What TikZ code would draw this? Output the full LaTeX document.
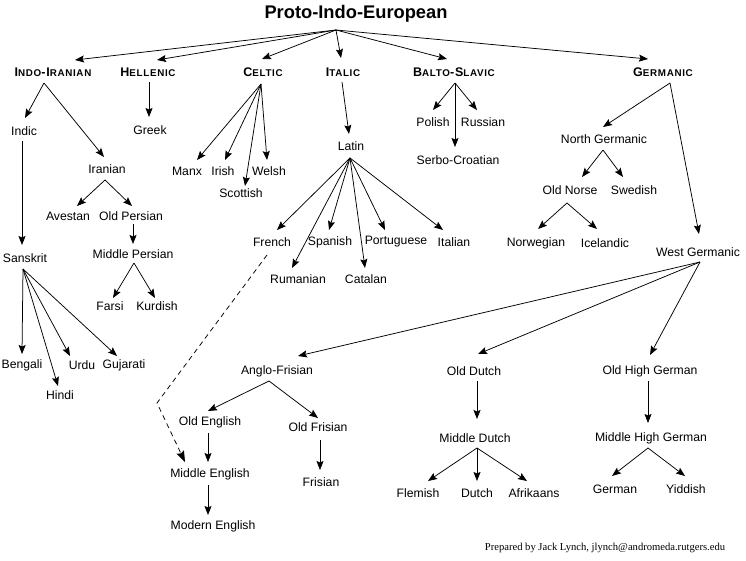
\documentclass[tikz,border=0pt]{standalone}
\usepackage{fontspec}
\setmainfont{Liberation Sans}
\newfontfamily\footfont{Liberation Serif}
\newfontfamily\hdrfont[LetterSpace=7]{Liberation Sans}
\usetikzlibrary{arrows.meta,calc}
\newcommand\BL[1]{{\fontsize{12.5}{14}\selectfont\bfseries #1}}
\newcommand\SL[1]{{\fontsize{9.8}{11}\selectfont\bfseries #1}}
\begin{document}
\begin{tikzpicture}[x=1pt,y=-1pt,
  lang/.style={font=\fontsize{12.2}{14}\selectfont, inner sep=0pt},
  hdr/.style={inner sep=0pt, font=\hdrfont},
  arr/.style={draw=black, line width=0.75pt, -{Stealth[length=9pt,width=7pt,inset=1.5pt]}},
  dsh/.style={draw=black, line width=0.75pt, dash pattern=on 5pt off 4pt, -{Stealth[length=11pt,width=8pt,inset=1.5pt]}}]
\useasboundingbox (0,0) rectangle (746,560);
\fill[white] (0,0) rectangle (746,560);
% title
\node[inner sep=0pt, font=\fontsize{18.3}{20}\selectfont\bfseries] (title) at (356,14) {Proto-Indo-European};
% headers
\node[hdr] (ii) at (53,72) {\BL{I}\SL{NDO}\BL{-I}\SL{RANIAN}};
\node[hdr] (hel) at (148,72) {\BL{H}\SL{ELLENIC}};
\node[hdr] (cel) at (263,72) {\BL{C}\SL{ELTIC}};
\node[hdr] (ita) at (343,72) {\BL{I}\SL{TALIC}};
\node[hdr] (bs) at (454,72) {\BL{B}\SL{ALTO}\BL{-S}\SL{LAVIC}};
\node[hdr] (ger) at (663,72) {\BL{G}\SL{ERMANIC}};
% Indo-Iranian
\node[lang] (indic) at (24,131) {Indic};
\node[lang] (iranian) at (107,169) {Iranian};
\node[lang] (sanskrit) at (25,258) {Sanskrit};
\node[lang] (avestan) at (68,216) {Avestan};
\node[lang] (oldpersian) at (131,216) {Old Persian};
\node[lang] (midpersian) at (133,254) {Middle Persian};
\node[lang] (farsi) at (110,306) {Farsi};
\node[lang] (kurdish) at (157,306) {Kurdish};
\node[lang] (bengali) at (22,365) {Bengali};
\node[lang] (hindi) at (60,395) {Hindi};
\node[lang] (urdu) at (82,365) {Urdu};
\node[lang] (gujarati) at (124,365) {Gujarati};
% Hellenic
\node[lang] (greek) at (150,130) {Greek};
% Celtic
\node[lang] (manx) at (187,171) {Manx};
\node[lang] (irish) at (223,171) {Irish};
\node[lang] (scottish) at (241,193) {Scottish};
\node[lang] (welsh) at (269,171) {Welsh};
% Italic
\node[lang] (latin) at (351,146) {Latin};
\node[lang] (french) at (272,242) {French};
\node[lang] (rumanian) at (298,279) {Rumanian};
\node[lang] (spanish) at (330,242) {Spanish};
\node[lang] (catalan) at (366,279) {Catalan};
\node[lang] (portuguese) at (396,242) {Portuguese};
\node[lang] (italian) at (454,242) {Italian};
% Balto-Slavic
\node[lang] (polish) at (433,122) {Polish};
\node[lang] (russian) at (483,122) {Russian};
\node[lang] (serbo) at (458,160) {Serbo-Croatian};
% Germanic
\node[lang] (northgerm) at (604,139) {North Germanic};
\node[lang] (westgerm) at (698,252) {West Germanic};
\node[lang] (oldnorse) at (570,190) {Old Norse};
\node[lang] (swedish) at (634,190) {Swedish};
\node[lang] (norwegian) at (536,243) {Norwegian};
\node[lang] (icelandic) at (605,243) {Icelandic};
\node[lang] (anglofris) at (277,371) {Anglo-Frisian};
\node[lang] (olddutch) at (474,371) {Old Dutch};
\node[lang] (ohg) at (650,371) {Old High German};
\node[lang] (oldenglish) at (210,422) {Old English};
\node[lang] (oldfrisian) at (318,427) {Old Frisian};
\node[lang] (midenglish) at (210,474) {Middle English};
\node[lang] (modenglish) at (213,526) {Modern English};
\node[lang] (frisian) at (321,482) {Frisian};
\node[lang] (middutch) at (475,438) {Middle Dutch};
\node[lang] (flemish) at (418,493) {Flemish};
\node[lang] (dutch) at (477,493) {Dutch};
\node[lang] (afrikaans) at (534,493) {Afrikaans};
\node[lang] (mhg) at (651,438) {Middle High German};
\node[lang] (german) at (615,489) {German};
\node[lang] (yiddish) at (686,489) {Yiddish};
% footer
\node[inner sep=0pt, font=\footfont\fontsize{10.6}{12}\selectfont] (foot) at (605,548) {Prepared by Jack Lynch, jlynch@andromeda.rutgers.edu};
\coordinate (bend) at (157,403);

% connectors: title
\foreach \c/\tx/\ty in {ii/22/-12, hel/9/-12, cel/-1/-13, ita/-2/-14, bs/-7/-13, ger/-15/-13}
  \draw[arr] ($(title)+(-20,16)$) -- ($(\c)+(\tx,\ty)$);
% Indo-Iranian
\draw[arr] ($(ii)+(-9,11)$) -- ($(indic)+(1,-13)$);
\draw[arr] ($(ii)+(-9,11)$) -- ($(iranian)+(-3,-12)$);
\draw[arr] ($(indic)+(-2,10)$) -- ($(sanskrit)+(-3,-13)$);
\draw[arr] ($(iranian)+(-2,11)$) -- ($(avestan)+(9,-10)$);
\draw[arr] ($(iranian)+(-2,11)$) -- ($(oldpersian)+(1,-10)$);
\draw[arr] ($(oldpersian)+(2,8)$) -- ($(midpersian)+(0,-10)$);
\draw[arr] ($(midpersian)+(1,9)$) -- ($(farsi)+(3,-8)$);
\draw[arr] ($(midpersian)+(1,9)$) -- ($(kurdish)+(-2,-8)$);
\draw[arr] ($(sanskrit)+(-2,11)$) -- ($(bengali)+(0,-11)$);
\draw[arr] ($(sanskrit)+(-2,11)$) -- ($(hindi)+(-2,-9)$);
\draw[arr] ($(sanskrit)+(-2,11)$) -- ($(urdu)+(-12,-9)$);
\draw[arr] ($(sanskrit)+(-2,11)$) -- ($(gujarati)+(-7,-9)$);
% Hellenic
\draw[arr] ($(hel)+(1,10)$) -- ($(greek)+(-1,-13)$);
% Celtic
\draw[arr] ($(cel)+(-2,12)$) -- ($(manx)+(10,-11)$);
\draw[arr] ($(cel)+(-2,12)$) -- ($(irish)+(2,-11)$);
\draw[arr] ($(cel)+(-2,12)$) -- ($(scottish)+(4,-7)$);
\draw[arr] ($(cel)+(-2,12)$) -- ($(welsh)+(-2,-11)$);
% Italic
\draw[arr] ($(ita)+(-1,10)$) -- ($(latin)+(-2,-12)$);
\draw[arr] ($(latin)+(-1,12)$) -- ($(french)+(5,-12)$);
\draw[arr] ($(latin)+(-1,12)$) -- ($(rumanian)+(-6,-11)$);
\draw[arr] ($(latin)+(-1,12)$) -- ($(spanish)+(-1,-12)$);
\draw[arr] ($(latin)+(-1,12)$) -- ($(catalan)+(-1,-11)$);
\draw[arr] ($(latin)+(-1,12)$) -- ($(portuguese)+(-11,-12)$);
\draw[arr] ($(latin)+(-1,12)$) -- ($(italian)+(-11,-12)$);
\draw[dsh] ($(french)+(-5,13)$) -- (bend) -- ($(midenglish)+(-25,-12)$);
% Balto-Slavic
\draw[arr] ($(bs)+(1,11)$) -- ($(polish)+(0,-12)$);
\draw[arr] ($(bs)+(1,11)$) -- ($(russian)+(-6,-12)$);
\draw[arr] ($(bs)+(1,11)$) -- ($(serbo)+(-3,-13)$);
% Germanic
\draw[arr] ($(ger)+(7,11)$) -- ($(northgerm)+(-1,-12)$);
\draw[arr] ($(ger)+(7,11)$) -- ($(westgerm)+(1,-18)$);
\draw[arr] ($(northgerm)+(-1,11)$) -- ($(oldnorse)+(12,-13)$);
\draw[arr] ($(northgerm)+(-1,11)$) -- ($(swedish)+(-11,-13)$);
\draw[arr] ($(oldnorse)+(-3,13)$) -- ($(norwegian)+(2,-14)$);
\draw[arr] ($(oldnorse)+(-3,13)$) -- ($(icelandic)+(-8,-14)$);
\draw[arr] ($(westgerm)+(2,10)$) -- ($(anglofris)+(21,-15)$);
\draw[arr] ($(westgerm)+(2,10)$) -- ($(olddutch)+(4,-17)$);
\draw[arr] ($(westgerm)+(2,10)$) -- ($(ohg)+(0,-16)$);
\draw[arr] ($(anglofris)+(-8,10)$) -- ($(oldenglish)+(-2,-11)$);
\draw[arr] ($(anglofris)+(-8,10)$) -- ($(oldfrisian)+(0,-9)$);
\draw[arr] ($(oldenglish)+(-2,11)$) -- ($(midenglish)+(-2,-12)$);
\draw[arr] ($(midenglish)+(-2,11)$) -- ($(modenglish)+(-5,-11)$);
\draw[arr] ($(oldfrisian)+(2,13)$) -- ($(frisian)+(-1,-12)$);
\draw[arr] ($(olddutch)+(3,10)$) -- ($(middutch)+(2,-19)$);
\draw[arr] ($(middutch)+(2,10)$) -- ($(flemish)+(10,-12)$);
\draw[arr] ($(middutch)+(2,10)$) -- ($(dutch)+(0,-12)$);
\draw[arr] ($(middutch)+(2,10)$) -- ($(afrikaans)+(-7,-12)$);
\draw[arr] ($(ohg)+(-2,10)$) -- ($(mhg)+(-3,-15)$);
\draw[arr] ($(mhg)+(-3,10)$) -- ($(german)+(-3,-13)$);
\draw[arr] ($(mhg)+(-3,10)$) -- ($(yiddish)+(-1,-13)$);
\end{tikzpicture}
\end{document}
